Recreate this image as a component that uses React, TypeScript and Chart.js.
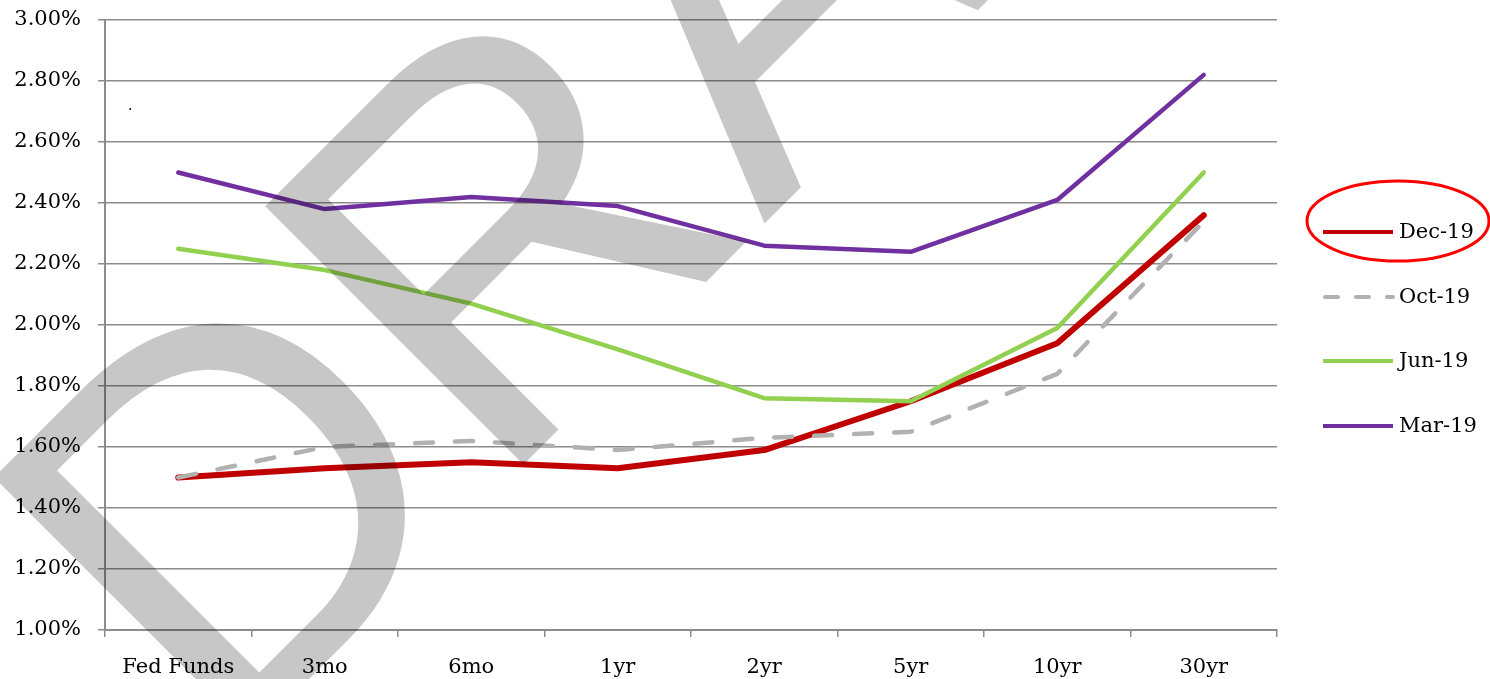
import React, { useEffect, useRef } from 'react';
import { Chart, registerables } from 'chart.js';

Chart.register(...registerables);

// Yield curve points by maturity, in percent
const maturities = ['Fed Funds', '3mo', '6mo', '1yr', '2yr', '5yr', '10yr', '30yr'];
const dec19 = [1.5, 1.53, 1.55, 1.53, 1.59, 1.75, 1.94, 2.36];
const oct19 = [1.5, 1.6, 1.62, 1.59, 1.63, 1.65, 1.84, 2.34];
const jun19 = [2.25, 2.18, 2.07, 1.92, 1.76, 1.75, 1.99, 2.5];
const mar19 = [2.5, 2.38, 2.42, 2.39, 2.26, 2.24, 2.41, 2.82];
const seriesLabels = ['Dec-19', 'Oct-19', 'Jun-19', 'Mar-19'];
const yMin = 1.0;
const yMax = 3.0;
const yStep = 0.2;
const watermarkText = 'DRAFT';

const SERIF = '"DejaVu Serif", serif';
const AXIS_GRAY = '#8c8c8c';

const overlayPlugin = {
  id: 'overlay',
  afterDraw(chart: any) {
    const ctx: CanvasRenderingContext2D = chart.ctx;
    const datasets = chart.data.datasets;

    // Legend on the right
    ctx.save();
    const rowY = [232, 297, 361, 426];
    datasets.forEach((ds: any, i: number) => {
      const y = rowY[i];
      ctx.beginPath();
      ctx.strokeStyle = ds.borderColor;
      ctx.lineWidth = 4;
      ctx.lineCap = ds.borderDash ? 'round' : 'butt';
      ctx.setLineDash(ds.borderDash ? [13, 18] : []);
      ctx.moveTo(ds.borderDash ? 1325 : 1323, y);
      ctx.lineTo(1393, y);
      ctx.stroke();
      ctx.setLineDash([]);
      ctx.fillStyle = '#000';
      ctx.font = '21px ' + SERIF;
      ctx.textAlign = 'left';
      ctx.textBaseline = 'middle';
      ctx.fillText(ds.label, 1399, y + 1);
    });

    // Highlight ring around the latest series
    ctx.beginPath();
    ctx.strokeStyle = '#ff0000';
    ctx.lineWidth = 3;
    ctx.ellipse(1398, 221, 91, 40, 0, 0, Math.PI * 2);
    ctx.stroke();

    // stray period in the plot
    ctx.fillStyle = '#000';
    ctx.font = '14px ' + SERIF;
    ctx.textAlign = 'left';
    ctx.textBaseline = 'alphabetic';
    ctx.fillText('.', 128, 110);
    ctx.restore();

    // Diagonal watermark, multiplied over everything
    ctx.save();
    ctx.globalCompositeOperation = 'multiply';
    ctx.fillStyle = '#c7c7c7';
    ctx.font = '531px "Liberation Sans", sans-serif';
    ctx.textAlign = 'left';
    ctx.textBaseline = 'alphabetic';
    const advD = ctx.measureText('D').width;
    const lsbR = -ctx.measureText('R').actualBoundingBoxLeft;
    ctx.translate(522, 466);
    ctx.rotate(-Math.PI / 4);
    ctx.fillText(watermarkText, -(advD + lsbR), 0);
    ctx.restore();
  },
};

export default function App() {
  const canvasRef = useRef<HTMLCanvasElement | null>(null);

  useEffect(() => {
    if (!canvasRef.current) return;
    const chart = new Chart(canvasRef.current, {
      type: 'line',
      data: {
        labels: maturities,
        datasets: [
          {
            label: seriesLabels[0],
            data: dec19,
            borderColor: '#c00000',
            borderWidth: 6,
            order: 4,
          },
          {
            label: seriesLabels[1],
            data: oct19,
            borderColor: '#b1b1b1',
            borderWidth: 4.5,
            borderDash: [18, 22],
            order: 3,
          },
          {
            label: seriesLabels[2],
            data: jun19,
            borderColor: '#92d050',
            borderWidth: 4.5,
            order: 2,
          },
          {
            label: seriesLabels[3],
            data: mar19,
            borderColor: '#7030a0',
            borderWidth: 4.5,
            order: 1,
          },
        ].map((d) => ({
          ...d,
          fill: false,
          tension: 0,
          pointRadius: 0,
          pointHoverRadius: 0,
          borderCapStyle: 'round' as const,
          borderJoinStyle: 'round' as const,
        })),
      },
      options: {
        animation: false,
        responsive: true,
        maintainAspectRatio: false,
        layout: { padding: { top: 20, right: 213, bottom: 0, left: 0 } },
        plugins: {
          legend: { display: false },
          tooltip: { enabled: false },
        },
        scales: {
          x: {
            type: 'category',
            offset: true,
            grid: {
              offset: true,
              drawOnChartArea: false,
              drawTicks: true,
              tickLength: 7,
              color: AXIS_GRAY,
              lineWidth: 1.5,
            },
            border: { display: true, color: AXIS_GRAY, width: 2 },
            ticks: {
              color: '#000',
              font: { family: SERIF, size: 21 },
              padding: 18,
              maxRotation: 0,
              autoSkip: false,
            },
            afterFit: (s: any) => {
              s.height = 49;
            },
          },
          y: {
            min: yMin,
            max: yMax,
            grid: {
              color: AXIS_GRAY,
              lineWidth: 1.5,
              tickLength: 7,
            },
            border: { display: true, color: AXIS_GRAY, width: 2 },
            ticks: {
              stepSize: yStep,
              color: '#000',
              font: { family: SERIF, size: 21 },
              padding: 17,
              callback: (v: any) => Number(v).toFixed(2) + '%',
            },
            afterFit: (s: any) => {
              s.width = 105;
              s.paddingTop = 0;
              s.paddingBottom = 0;
            },
          },
        },
      },
      plugins: [overlayPlugin],
    });
    return () => chart.destroy();
  }, []);

  return (
    <div
      style={{
        position: 'fixed',
        left: 0,
        top: 0,
        width: 1490,
        height: 679,
        background: '#fff',
      }}
    >
      <canvas ref={canvasRef} />
    </div>
  );
}
